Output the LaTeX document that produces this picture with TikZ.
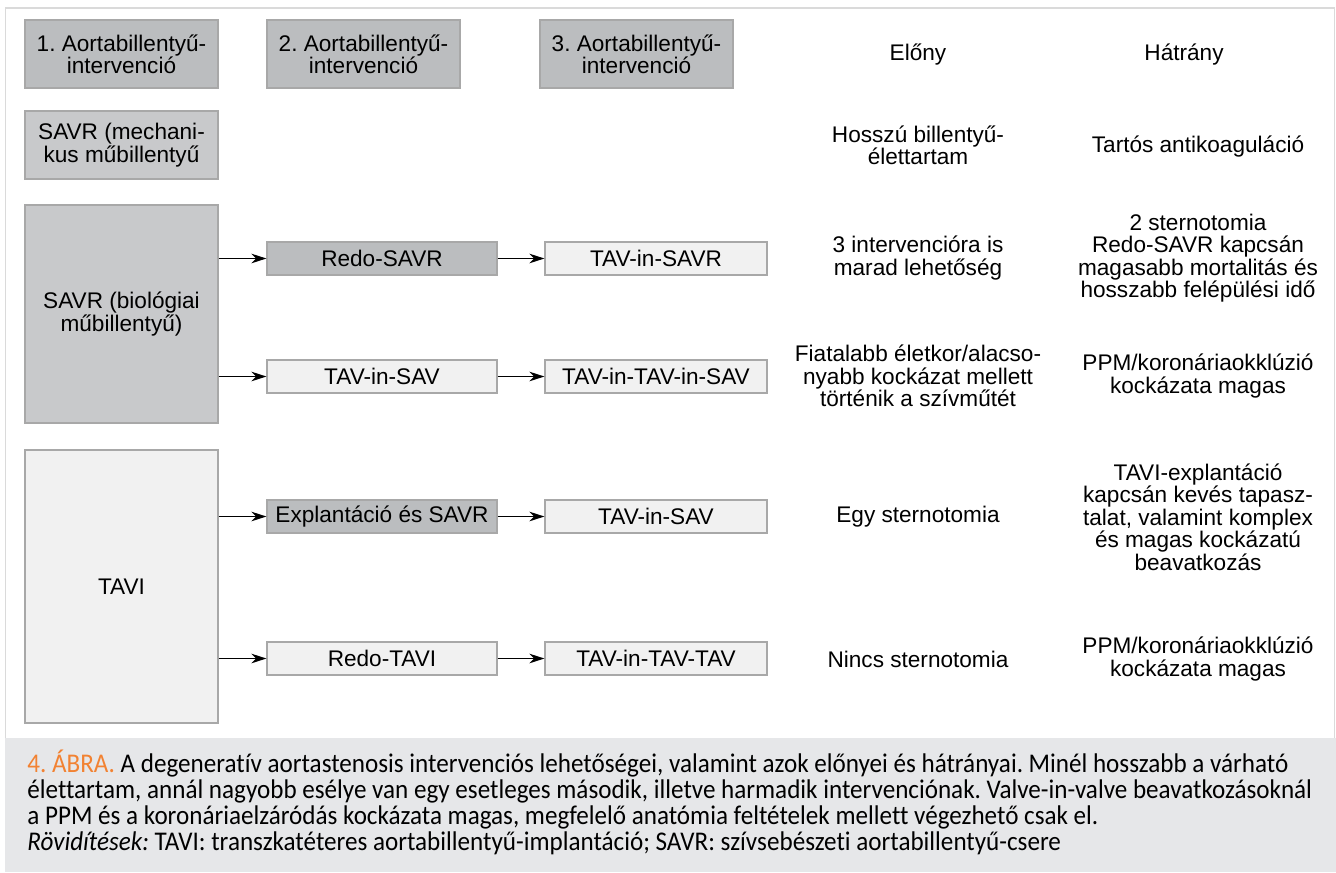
\documentclass[tikz,border=0pt]{standalone}
\usepackage{fontspec}
\setmainfont{Liberation Sans}
\newfontfamily\capfont[FakeStretch=0.93,Ligatures=NoCommon]{Carlito}
\usepackage{xcolor}
\usetikzlibrary{arrows.meta}
\definecolor{hdgray}{RGB}{187,189,191}
\definecolor{midgray}{RGB}{200,201,203}
\definecolor{ltgray}{RGB}{241,241,241}
\definecolor{edgegray}{RGB}{168,168,168}
\definecolor{capgray}{RGB}{230,231,233}
\definecolor{framegray}{RGB}{218,218,218}
\definecolor{abraorange}{RGB}{242,130,50}
\newcommand\dtxt{\fontsize{11.3}{11.2}\selectfont}
\tikzstyle{cell}=[draw=edgegray,line width=.6pt,inner sep=0pt,align=center,font=\dtxt]
\tikzstyle{head}=[cell,fill=hdgray,minimum width=96.5pt,minimum height=34pt]
\tikzstyle{first}=[cell,fill=midgray,minimum width=96.5pt]
\tikzstyle{step2}=[cell,minimum width=115pt,minimum height=16.5pt]
\tikzstyle{step3}=[cell,fill=ltgray,minimum width=111pt,minimum height=16.5pt]
\tikzstyle{txt}=[align=center,inner sep=0pt,font=\dtxt]
\tikzstyle{arr}=[line width=.7pt,-{Stealth[length=7.5pt,width=4.8pt,inset=2.4pt]}]
\frenchspacing

\begin{document}
\begin{tikzpicture}[x=.5pt,y=-.5pt]
	\useasboundingbox (0,0) rectangle (1336,872);
	\fill[capgray] (5,738) rectangle (1336,872);
	\draw[framegray,line width=.8pt] (5.5,738) -- (5.5,8) -- (1334.5,8) -- (1334.5,738);
	% header row
	\node[head] (h1) at (121.5,54) {1. Aortabillentyű-\\intervenció};
	\node[head] (h2) at (363.5,54) {2. Aortabillentyű-\\intervenció};
	\node[head] (h3) at (636.5,54) {3. Aortabillentyű-\\intervenció};
	\node[txt] (elony) at (918,55) {Előny};
	\node[txt] (hatrany) at (1184,55) {Hátrány};
	% first interventions
	\node[first,minimum height=34pt] (mech) at (121.5,145) {SAVR (mechani-\\kus műbillentyű};
	\node[first,minimum height=109pt] (bio) at (121.5,314) {SAVR (biológiai\\műbillentyű)};
	\node[first,fill=ltgray,minimum height=136.5pt] (tavi) at (121.5,586.5) {TAVI};
	% second and third
	\node[step2,fill=hdgray] (redosavr) at (382,258.5) {Redo-SAVR};
	\node[step3] (tavinsavr) at (656,258.5) {TAV-in-SAVR};
	\node[step2,fill=ltgray] (tavinsav) at (382,376.5) {TAV-in-SAV};
	\node[step3] (tavintavinsav) at (656,376.5) {TAV-in-TAV-in-SAV};
	\node[step2,fill=hdgray] (explant) at (382,516.5) {Explantáció és SAVR};
	\node[step3] (tavinsavb) at (656,516.5) {TAV-in-SAV};
	\node[step2,fill=ltgray] (redotavi) at (382,658.5) {Redo-TAVI};
	\node[step3] (tavintavtav) at (656,658.5) {TAV-in-TAV-TAV};
	% pros
	\node[txt] (p1) at (918,145) {Hosszú billentyű-\\élettartam};
	\node[txt] (p2) at (918,258) {3 intervencióra is\\marad lehetőség};
	\node[txt] (p3) at (918,376) {Fiatalabb életkor/alacso-\\nyabb kockázat mellett\\történik a szívműtét};
	\node[txt] (p4) at (918,517) {Egy sternotomia};
	\node[txt] (p5) at (918,659) {Nincs sternotomia};
	% cons
	\node[txt] (c1) at (1198,147) {Tartós antikoaguláció};
	\node[txt] (c2) at (1198,258) {2 sternotomia\\Redo-SAVR kapcsán\\magasabb mortalitás és\\hosszabb felépülési idő};
	\node[txt] (c3) at (1198,376) {PPM/koronáriaokklúzió\\kockázata magas};
	\node[txt] (c4) at (1198,517) {TAVI-explantáció\\kapcsán kevés tapasz-\\talat, valamint komplex\\és magas kockázatú\\beavatkozás};
	\node[txt] (c5) at (1198,659) {PPM/koronáriaokklúzió\\kockázata magas};
	% connectors
	\draw[arr] (redosavr.west -| bio.east) -- (redosavr);
	\draw[arr] (tavinsav.west -| bio.east) -- (tavinsav);
	\draw[arr] (explant.west -| tavi.east) -- (explant);
	\draw[arr] (redotavi.west -| tavi.east) -- (redotavi);
	\draw[arr] (redosavr) -- (tavinsavr);
	\draw[arr] (tavinsav) -- (tavintavinsav);
	\draw[arr] (explant) -- (tavinsavb);
	\draw[arr] (redotavi) -- (tavintavtav);
	% caption
	\node[anchor=north west,align=left,inner sep=0pt,font=\capfont\fontsize{13.5}{13}\selectfont] (caption) at (27,750)
	  {\textcolor{abraorange}{4. ÁBRA.} A degeneratív aortastenosis intervenciós lehetőségei, valamint azok előnyei és hátrányai. Minél hosszabb a várható\\
	   élettartam, annál nagyobb esélye van egy esetleges második, illetve harmadik intervenciónak. Valve-in-valve beavatkozásoknál\\
	   a PPM és a koronáriaelzáródás kockázata magas, megfelelő anatómia feltételek mellett végezhető csak el.\\
	   \textit{Rövidítések:} TAVI: transzkatéteres aortabillentyű-implantáció; SAVR: szívsebészeti aortabillentyű-csere};
\end{tikzpicture}
\end{document}
